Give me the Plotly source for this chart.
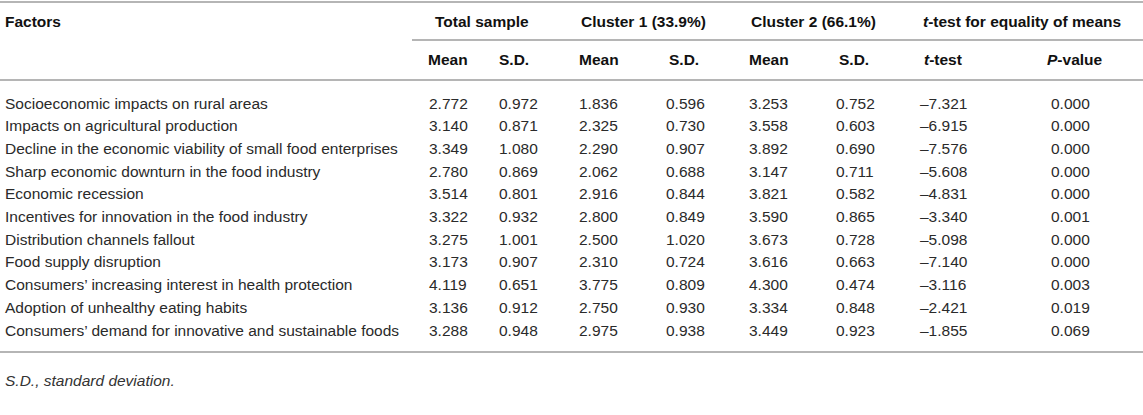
import plotly.graph_objects as go

factors = [
    "Socioeconomic impacts on rural areas",
    "Impacts on agricultural production",
    "Decline in the economic viability of small food enterprises",
    "Sharp economic downturn in the food industry",
    "Economic recession",
    "Incentives for innovation in the food industry",
    "Distribution channels fallout",
    "Food supply disruption",
    "Consumers\u2019 increasing interest in health protection",
    "Adoption of unhealthy eating habits",
    "Consumers\u2019 demand for innovative and sustainable foods",
]
total_mean = [2.772, 3.140, 3.349, 2.780, 3.514, 3.322, 3.275, 3.173, 4.119, 3.136, 3.288]
total_sd = [0.972, 0.871, 1.080, 0.869, 0.801, 0.932, 1.001, 0.907, 0.651, 0.912, 0.948]
c1_mean = [1.836, 2.325, 2.290, 2.062, 2.916, 2.800, 2.500, 2.310, 3.775, 2.750, 2.975]
c1_sd = [0.596, 0.730, 0.907, 0.688, 0.844, 0.849, 1.020, 0.724, 0.809, 0.930, 0.938]
c2_mean = [3.253, 3.558, 3.892, 3.147, 3.821, 3.590, 3.673, 3.616, 4.300, 3.334, 3.449]
c2_sd = [0.752, 0.603, 0.690, 0.711, 0.582, 0.865, 0.728, 0.663, 0.474, 0.848, 0.923]
t_test = [-7.321, -6.915, -7.576, -5.608, -4.831, -3.340, -5.098, -7.140, -3.116, -2.421, -1.855]
p_value = [0.000, 0.000, 0.000, 0.000, 0.000, 0.001, 0.000, 0.000, 0.003, 0.019, 0.069]

group_headers = ["Total sample", "Cluster 1 (33.9%)", "Cluster 2 (66.1%)", "<i>t</i>-test for equality of means"]
sub_headers = ["Mean", "S.D.", "Mean", "S.D.", "Mean", "S.D.", "<i>t</i>-test", "<i>P</i>-value"]
footnote = "S.D., standard deviation."

W, H = 1143, 415
FONT = "Liberation Sans, Arial, Helvetica, sans-serif"
SIZE = 15.5

# layout (pixel coordinates)
col_x = [427, 497, 577, 664, 747, 834, 918, 1049]
head_x = [426, 497, 577, 667, 747, 837, 922, 1045]
group_x = [482, 643, 813, 1022]
row0, pitch = 103, 22.7

def fmt(v):
    s = f"{abs(v):.3f}"
    return "\u2013" + s if v < 0 else s

columns = [total_mean, total_sd, c1_mean, c1_sd, c2_mean, c2_sd, t_test, p_value]

ann = []
def add(x, y, text, anchor="left", bold=False, italic=False, color="#2a2a2a"):
    if bold:
        text = f"<b>{text}</b>"
    if italic:
        text = f"<i>{text}</i>"
    ann.append(dict(x=x, y=y, xref="x", yref="y", text=text, showarrow=False,
                    xanchor=anchor, yanchor="middle",
                    font=dict(family=FONT, size=SIZE, color=color)))

add(3, 21, "Factors", bold=True, color="#111")
for gx, g in zip(group_x, group_headers):
    add(gx, 21, g, anchor="center", bold=True, color="#111")
for hx, h in zip(head_x, sub_headers):
    add(hx, 59, h, bold=True, color="#111")

for i, f in enumerate(factors):
    y = row0 + i * pitch
    add(3, y, f)
    for cx, col in zip(col_x, columns):
        add(cx, y, fmt(col[i]))

last_y = row0 + (len(factors) - 1) * pitch
add(3, last_y + 50, footnote, italic=True, color="#333")

line = dict(color="#b5b5b5", width=2)
shapes = [
    dict(type="line", xref="x", yref="y", x0=0, x1=W, y0=2, y1=2, line=line),
    dict(type="line", xref="x", yref="y", x0=412, x1=W, y0=40, y1=40, line=line),
    dict(type="line", xref="x", yref="y", x0=0, x1=W, y0=80, y1=80, line=line),
    dict(type="line", xref="x", yref="y", x0=0, x1=W, y0=last_y + 22, y1=last_y + 22, line=line),
]

fig = go.Figure()
fig.update_layout(
    width=W, height=H,
    margin=dict(l=0, r=0, t=0, b=0),
    paper_bgcolor="white", plot_bgcolor="white",
    xaxis=dict(range=[0, W], visible=False, fixedrange=True),
    yaxis=dict(range=[H, 0], visible=False, fixedrange=True),
    annotations=ann, shapes=shapes, showlegend=False,
)
# drop the page's default body margin so the table sits flush at the top-left
fig.write_html("out.html", config={"displayModeBar": False},
               post_script="document.body.style.margin='0';")
